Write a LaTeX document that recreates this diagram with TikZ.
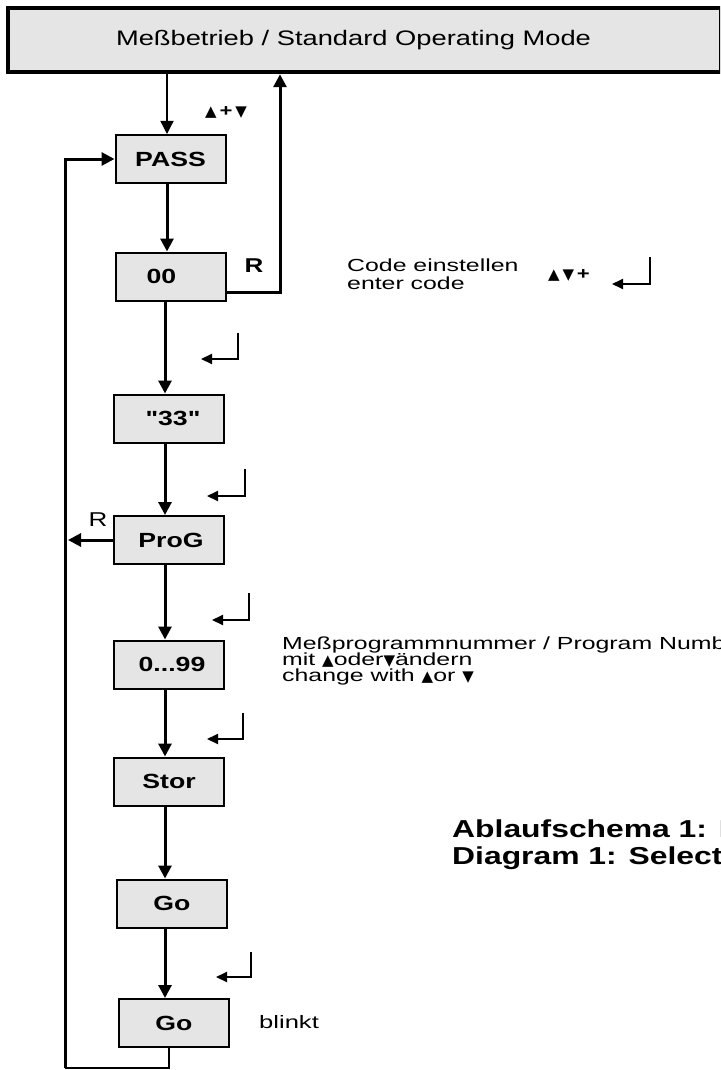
\documentclass[tikz,border=0pt]{standalone}
\usepackage{fontspec}
\setmainfont[FakeStretch=1.3,Ligatures=TeXOff]{Liberation Sans}
\newfontfamily\notefont[FakeStretch=1.42,Ligatures=TeXOff]{Liberation Sans}
\newfontfamily\symfont{DejaVu Sans}
\usetikzlibrary{arrows.meta,calc}
\definecolor{boxgray}{gray}{0.9}
\newcommand{\tup}{\smash{\symfont\fontsize{15}{10}\selectfont ▲}}
\newcommand{\tdn}{\smash{\symfont\fontsize{15}{10}\selectfont ▼}}
\newcommand{\notesz}[1]{\notefont\fontsize{17.5}{#1}\selectfont\lineskiplimit=-50pt\relax}
\begin{document}
\begin{tikzpicture}[x=1pt,y=-1pt,
  flowtip/.tip={Triangle[length=13pt,width=13pt]},
  entertip/.tip={Triangle[length=11pt,width=10pt]},
  stepbox/.style={draw,line width=2pt,fill=boxgray,minimum width=110pt,minimum height=48pt,inner sep=0pt,font=\fontsize{20.5}{24}\selectfont\bfseries},
  topbox/.style={draw,line width=4.5pt,fill=boxgray,minimum width=713pt,minimum height=64pt,inner sep=0pt,font=\fontsize{21}{24}\selectfont},
  flow/.style={line width=3pt,-flowtip},
  thinflow/.style={line width=1.3pt,-flowtip},
  thinline/.style={line width=1.5pt},
  enter/.style={line width=2pt,-entertip},
  note/.style={anchor=base west,inner sep=0pt,align=left},
  lbl/.style={inner sep=0pt},
]
\clip (0,0) rectangle (720,1070);
\fill[white] (0,0) rectangle (720,1070);

% boxes
\node[topbox] (mode) at (364.5,40) {Meßbetrieb / Standard Operating Mode\hspace*{22pt}};
\node[stepbox] (pass) at (170.5,159) {PASS};
\node[stepbox] (c00) at (170.5,276.5) {00\hspace*{18pt}};
\node[stepbox] (c33) at (169,418.5) {\hspace*{8pt}"33"};
\node[stepbox] (prog) at (169,540) {\hspace*{4pt}ProG};
\node[stepbox] (n099) at (169,664.5) {\hspace*{6pt}0...99};
\node[stepbox] (stor) at (169,781.5) {Stor};
\node[stepbox] (go1) at (172,903.5) {Go};
\node[stepbox] (go2) at (174,1023) {Go};

% helper coordinates
\coordinate (col) at (167,0);
\coordinate (colb) at (165,0);
\coordinate (rr) at (280,292);
\coordinate (lb) at (65,1068);
\coordinate (gb) at (169,1068);

% connectors
\draw[thinflow] (mode.south -| col) -- (pass.north -| col);
\draw[flow] (pass.south -| col) -- (c00.north -| col);
\draw[flow] (c00.south -| colb) -- (c33.north -| colb);
\draw[flow] (c33.south -| colb) -- (prog.north -| colb);
\draw[flow] (prog.south -| colb) -- (n099.north -| colb);
\draw[flow] (n099.south -| colb) -- (stor.north -| colb);
\draw[flow] (stor.south -| colb) -- (go1.north -| colb);
\draw[flow] (go1.south -| colb) -- (go2.north -| colb);
\draw[flow] (c00.east |- rr) -- (rr) -- (rr |- mode.south);
\draw[thinline] (go2.south -| gb) -- (gb) -- (lb);
\draw[flow] (lb) -- (lb |- pass.west) -- (pass.west);
\draw[flow] (prog.west) -- ($(prog.west -| lb)+(3,0)$);

% enter symbols
\draw[enter] (650,257) -- (650,284) -- (612,284);
\draw[enter] (238,333) -- (238,359) -- (201,359);
\draw[enter] (245,469) -- (245,496) -- (207,496);
\draw[enter] (249,593) -- (249,620) -- (212,620);
\draw[enter] (243,713) -- (243,739) -- (207,739);
\draw[enter] (251,952) -- (251,977) -- (216,977);

% labels
\node[lbl,font=\fontsize{17}{17}\selectfont\bfseries] (keys) at (226,112) {\tup\,+\,\tdn};
\node[lbl,font=\fontsize{20}{20}\selectfont\bfseries] (rtop) at (254,266) {R};
\node[lbl,font=\fontsize{20}{20}\selectfont] (rprog) at (98,520) {R};
\node[note,font=\notesz{18}] (code) at (347,289) {Code einstellen\\enter code};
\node[lbl,font=\fontsize{17}{17}\selectfont\bfseries,anchor=base west] (codekeys) at (548,279) {\tup\,\tdn\,+};
\node[note,font=\notesz{16}] (prognote) at (282,681) {Meßprogrammnummer / Program Number\\mit \tup oder\tdn ändern\\change with \tup or \tdn};
\node[note,font=\fontsize{24.5}{27}\selectfont\bfseries] (title) at (452,864) {Ablaufschema 1: Programmwahl\\Diagram 1: Selecting a program};
\node[note,font=\notefont\fontsize{18}{22}\selectfont] (blink) at (259,1028) {blinkt};
\end{tikzpicture}
\end{document}
